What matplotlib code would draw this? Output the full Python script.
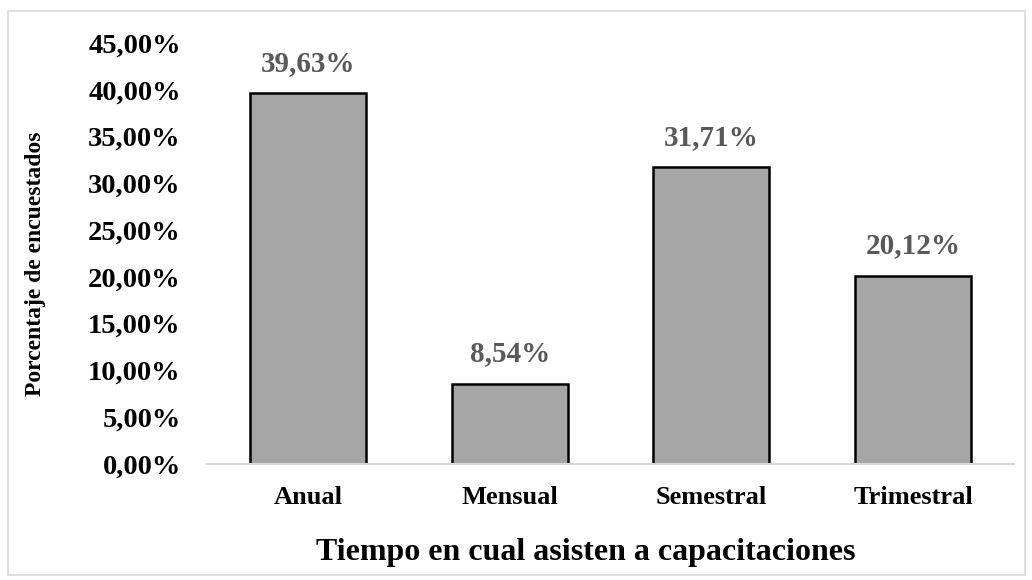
import matplotlib.pyplot as plt
from matplotlib.patches import Rectangle
from matplotlib.ticker import FuncFormatter

categorias = ['Anual', 'Mensual', 'Semestral', 'Trimestral']
porcentajes = [39.63, 8.54, 31.71, 20.12]
yticks = [0, 5, 10, 15, 20, 25, 30, 35, 40, 45]

plt.rcParams['font.family'] = ['Liberation Serif', 'DejaVu Serif']
plt.rcParams['font.weight'] = 'bold'

fig = plt.figure(figsize=(10.32, 5.8), dpi=100)
ax = fig.add_axes([0.2006, 0.2, 0.782, 0.7259])

x = range(len(categorias))
bars = ax.bar(x, porcentajes, width=0.575, color='#a5a5a5', edgecolor='black', linewidth=1.8)

for xi, v in zip(x, porcentajes):
    ax.annotate(('%.2f%%' % v).replace('.', ','), (xi, v), xytext=(0, 12),
                textcoords='offset points', ha='center', va='bottom',
                fontsize=21, fontweight='bold', color='#595959')

ax.set_xlim(-0.5, 3.5)
ax.set_ylim(0, 45)
ax.set_yticks(yticks)
ax.yaxis.set_major_formatter(FuncFormatter(lambda v, p: ('%.2f%%' % v).replace('.', ',')))
ax.set_xticks(list(x))
ax.set_xticklabels(categorias)
ax.tick_params(axis='y', length=0, labelsize=20.5, pad=19)
ax.tick_params(axis='x', length=0, labelsize=19, pad=16)

for s in ['top', 'right', 'left']:
    ax.spines[s].set_visible(False)
ax.spines['bottom'].set_color('#d9d9d9')
ax.spines['bottom'].set_linewidth(1.5)

ax.set_xlabel('Tiempo en cual asisten a capacitaciones', fontsize=23, fontweight='bold')
ax.set_ylabel('Porcentaje de encuestados', fontsize=17, fontweight='bold')
ax.xaxis.set_label_coords(0.469, -0.175)
ax.yaxis.set_label_coords(-0.199, 0.475)

fig.patches.append(Rectangle((8 / 1032, 5 / 580), 1017 / 1032, 564 / 580,
                             transform=fig.transFigure, fill=False,
                             edgecolor='#d9d9d9', linewidth=1.2))

fig.savefig('out.png', dpi=100)
